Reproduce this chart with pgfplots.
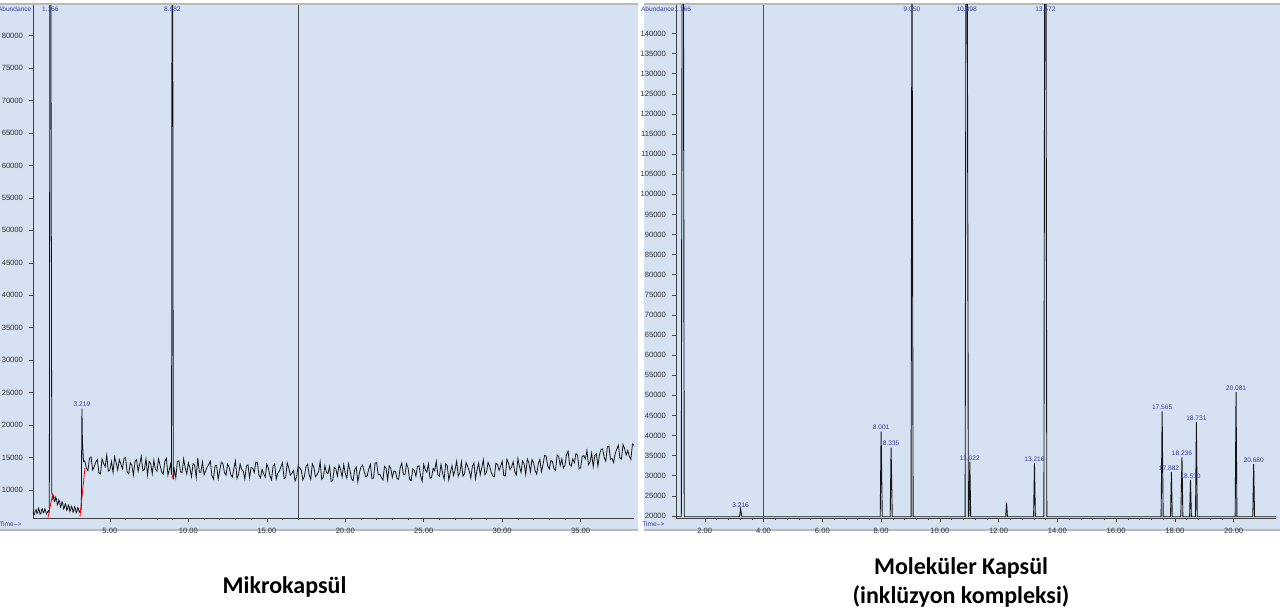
\documentclass[border=0pt]{standalone}
\usepackage{pgfplots}
\pgfplotsset{compat=1.18}
\usepackage{fontspec}
\setmainfont{Liberation Sans}
\newfontfamily\carlito{Carlito}
\definecolor{panel}{RGB}{212,226,241}
\definecolor{lblblue}{RGB}{60,60,175}
\definecolor{trace}{RGB}{20,20,20}
\tikzset{lbl/.style={font=\fontsize{3.3}{3.6}\selectfont, text=lblblue, inner sep=0.6pt}}
\pgfplotsset{
  chrom/.style={
    scale only axis, anchor=south west,
    axis x line*=bottom, axis y line*=left,
    axis line style={line width=0.45pt, black!75},
    tick style={black!75, line width=0.3pt},
    major tick length=2pt, minor tick length=1.1pt,
    tick align=outside,
    minor x tick num=4,
    ticklabel style={font=\fontsize{3.8}{4.2}\selectfont, text=black!80},
    xticklabel style={yshift=0.6pt},
    yticklabel style={xshift=0.5pt},
    scaled y ticks=false,
    yticklabel style={/pgf/number format/.cd, fixed, 1000 sep={}, precision=0},
    xticklabel style={/pgf/number format/.cd, fixed, fixed zerofill, precision=2},
    /pgf/number format/assume math mode=true,
    clip mode=individual,
  },
}
\begin{document}
\begin{tikzpicture}[x=1pt,y=1pt]
\fill[white] (0,0) rectangle (640,306);
\path[use as bounding box] (0,0) rectangle (640,306);
% panels
\fill[panel] (0,41) rectangle (319,304);
\fill[panel] (322,41) rectangle (640,304);
\draw[gray!55, line width=0.9pt] (0,304)--(319,304) (0,41)--(319,41);
\draw[gray!55, line width=0.9pt] (322,304)--(640,304) (322,41)--(640,41);

% ---------------- left: Mikrokapsul ----------------
\begin{axis}[chrom, at={(16.5pt,47pt)}, width=300.5pt, height=256.5pt,
  xmin=0.1, xmax=38.4, ymin=5700, ymax=84700,
  ytick={10000,15000,...,80000}, xtick={5,10,...,35}]
\addplot[trace, line width=0.4pt] coordinates {
(0.1,6700)(0.15,6200)(0.2,6300)(0.25,6900)(0.3,7000)(0.35,6400)(0.4,6500)(0.45,7200)(0.5,6900)(0.55,6300)
(0.6,6400)(0.65,7000)(0.7,7100)(0.75,6500)(0.8,6600)(0.85,7100)(0.9,6900)(0.95,6300)(1.0,6500)
(1.08,6800)(1.14,6600)(1.18,100000)(1.23,100000)(1.30,9600)(1.36,8700)(1.42,9100)(1.46,8200)(1.5,8300)(1.55,8900)(1.6,8600)
(1.65,7700)(1.7,7900)(1.75,8500)(1.8,8200)(1.85,7400)(1.9,7600)(1.95,8200)(2.0,7900)(2.05,7100)(2.1,7300)(2.15,7900)(2.2,7700)
(2.25,6900)(2.3,7100)(2.35,7700)(2.4,7500)(2.45,6700)(2.5,6900)(2.55,7500)(2.6,7300)(2.65,6600)
(2.7,6800)(2.75,7400)(2.8,7200)(2.85,6500)(2.9,6700)(2.95,7300)(3.0,7100)(3.05,6600)(3.1,6800)(3.18,7000)(3.20,16000)(3.22,22600)(3.25,17600)
(3.28,16200)(3.32,14400)
(3.4,14500)(3.5,13400)(3.6,13000)(3.7,14900)(3.8,15100)(3.9,13100)(4.0,13600)(4.1,14300)(4.2,14700)(4.3,12700)(4.4,12500)(4.5,14800)(4.6,14100)(4.7,13600)(4.8,15400)(4.9,12900)
(5.0,13100)(5.1,14400)(5.2,12700)(5.3,15100)(5.4,14200)(5.5,13100)(5.6,14700)(5.7,14000)(5.8,13300)(5.9,14900)
(6.0,15000)(6.1,12800)(6.2,12500)(6.3,14200)(6.4,13800)(6.5,12300)(6.6,14400)(6.7,14700)(6.8,12900)(6.9,14000)
(7.0,15200)(7.1,13000)(7.2,13200)(7.3,14800)(7.4,12300)(7.5,14400)(7.6,14100)(7.7,12500)(7.8,14600)(7.9,13200)
(8.0,12900)(8.1,14800)(8.2,13800)(8.3,12800)(8.4,12500)(8.5,14400)(8.6,14900)(8.7,12300)(8.8,13300)(8.87,14000)
(8.93,12400)(8.96,100000)(9.00,100000)(9.04,11600)(9.1,13200)
(9.2,11900)(9.3,14400)(9.4,14500)(9.5,12800)(9.6,12700)(9.7,14800)(9.8,13400)(9.9,12500)
(10.0,14200)(10.1,13400)(10.2,12050)(10.3,14050)(10.4,13850)(10.5,11950)(10.6,14950)(10.7,12750)(10.8,12750)(10.9,14350)
(11.0,12350)(11.1,12950)(11.2,13550)(11.3,13950)(11.4,14450)(11.5,12250)(11.6,11700)(11.7,13700)(11.8,13800)(11.9,11700)
(12.0,13000)(12.1,14300)(12.2,14100)(12.3,12700)(12.4,12300)(12.5,14000)(12.6,13500)(12.7,12400)(12.8,12000)(12.9,13300)
(13.0,14500)(13.1,11800)(13.2,12400)(13.3,14000)(13.4,13200)(13.5,12900)(13.6,11700)(13.7,13700)(13.8,13900)(13.9,11900)
(14.0,13500)(14.1,13400)(14.2,12700)(14.3,14300)(14.4,14200)(14.5,12300)(14.6,11900)(14.7,13200)(14.8,12500)(14.9,12000)
(15.0,14000)(15.1,13400)(15.2,12200)(15.3,11600)(15.4,13700)(15.5,14000)(15.6,11700)(15.7,12600)(15.8,12900)(15.9,13600)
(16.0,14200)(16.1,11800)(16.2,11900)(16.3,14200)(16.4,13400)(16.5,12300)(16.6,12600)(16.7,13000)(16.8,11400)(16.9,12000)
(17.0,13800)(17.1,13400)(17.2,13050)(17.3,11550)(17.4,12150)(17.5,13650)(17.6,13950)(17.7,12350)(17.8,11650)(17.9,14050)
(18.0,13450)(18.1,12050)(18.2,12350)(18.3,12850)(18.4,14350)(18.5,11650)(18.6,11950)(18.7,13750)(18.8,12750)(18.9,12550)
(19.0,13650)(19.1,11350)(19.2,11450)(19.3,13450)(19.4,13250)(19.5,12150)(19.6,13850)(19.7,13150)(19.8,12050)(19.9,13950)
(20.0,12550)(20.1,11850)(20.2,14050)(20.3,13050)(20.4,11750)(20.5,11450)(20.6,13150)(20.7,13550)(20.8,11250)(20.9,12650)
(21.0,13550)(21.1,13850)(21.2,12950)(21.3,12050)(21.4,12250)(21.5,13250)(21.6,13950)(21.7,11750)(21.8,11850)(21.9,14150)
(22.0,14250)(22.1,12350)(22.2,12450)(22.3,11950)(22.4,11550)(22.5,13650)(22.6,13350)(22.7,11550)(22.8,13750)(22.9,13350)
(23.0,11950)(23.1,12950)(23.2,12850)(23.3,11750)(23.4,11650)(23.5,13450)(23.6,14150)(23.7,12450)(23.8,12350)(23.9,14050)
(24.0,13450)(24.1,11650)(24.2,11450)(24.3,13250)(24.4,13050)(24.5,12150)(24.6,13650)(24.7,13750)(24.8,12150)(24.9,11350)
(25.0,13950)(25.1,13150)(25.2,12750)(25.3,14050)(25.4,11850)(25.5,11950)(25.6,13350)(25.7,12950)(25.8,14450)(25.9,12350)
(26.0,12150)(26.1,13950)(26.2,12650)(26.3,11650)(26.4,14050)(26.5,13750)(26.6,11550)(26.7,12750)(26.8,13750)(26.9,12250)
(27.0,13150)(27.1,14450)(27.2,12150)(27.3,12650)(27.4,14350)(27.5,12150)(27.6,12550)(27.7,14250)(27.8,13650)(27.9,12950)
(28.0,11850)(28.1,13650)(28.2,14150)(28.3,11750)(28.4,13150)(28.5,14150)(28.6,12350)(28.7,13450)(28.8,14650)(28.9,12350)
(29.0,12750)(29.1,14250)(29.2,13650)(29.3,12750)(29.4,12150)(29.5,12050)(29.6,14150)(29.7,13950)(29.8,13050)(29.9,13650)
(30.0,14450)(30.1,12250)(30.2,12150)(30.3,14750)(30.4,14150)(30.5,13150)(30.6,13550)(30.7,14350)(30.8,12850)(30.9,12350)
(31.0,14850)(31.1,13650)(31.2,12700)(31.3,14500)(31.4,14000)(31.5,12400)(31.6,14800)(31.7,14200)(31.8,12800)(31.9,14700)
(32.0,14200)(32.1,13000)(32.2,12450)(32.3,14050)(32.4,14750)(32.5,12850)(32.6,13850)(32.7,15350)(32.8,15250)(32.9,13750)
(33.0,13250)(33.1,14550)(33.2,14400)(33.3,13300)(33.4,13000)(33.5,15400)(33.6,15200)(33.7,13800)(33.8,14800)(33.9,13400)
(34.0,13800)(34.1,15500)(34.2,16000)(34.3,13900)(34.4,13700)(34.5,14800)(34.6,14200)(34.7,15600)(34.8,15400)(34.9,13300)
(35.0,13400)(35.1,15200)(35.2,15300)(35.3,14800)(35.4,16100)(35.5,13900)(35.6,14300)(35.7,15700)(35.8,13600)(35.9,15300)
(36.0,15600)(36.1,13700)(36.2,15450)(36.3,16250)(36.4,16350)(36.5,15050)(36.6,14450)(36.7,16650)(36.8,16750)(36.9,14750)
(37.0,14850)(37.1,14250)(37.2,15600)(37.3,16300)(37.4,16900)(37.5,15000)(37.6,14800)(37.7,17000)(37.8,16400)(37.9,15400)
(38.0,16100)(38.1,15200)(38.2,14700)(38.3,17100)(38.4,16900)
};
% integration baselines
\addplot[red, line width=0.4pt] coordinates {(1.05,5750)(1.37,9500)};
\addplot[red, line width=0.4pt] coordinates {(3.09,5850)(3.41,13400)};
\addplot[red, line width=0.4pt] coordinates {(8.95,11800)(9.07,12800)};
% cursor line
\addplot[black!70, line width=0.5pt] coordinates {(17.0,5700)(17.0,84700)};
\node[lbl, anchor=north] at (axis cs:1.2,84700) {1.166};
\node[lbl, anchor=north] at (axis cs:8.98,84700) {8.982};
\node[lbl, anchor=south] at (axis cs:3.22,22600) {3.219};
\node[lbl, anchor=north east] at (rel axis cs:0,1) {Abundance};
\node[lbl, anchor=north east, xshift=-5pt, yshift=-1.2pt] at (rel axis cs:0,0) {Time-->};
\end{axis}

% ---------------- right: Molekuler Kapsul ----------------
\begin{axis}[chrom, at={(338pt,47pt)}, width=300pt, height=256.5pt,
  xmin=1.02, xmax=21.44, ymin=19500, ymax=147100,
  ytick={20000,25000,...,140000}, xtick={2,4,...,20}]
\addplot[trace, line width=0.45pt] coordinates {
(1.02,19800)(1.20,19800)(1.23,170000)(1.27,170000)(1.30,19800)
(3.18,19800)(3.22,21800)(3.26,19800)
(7.97,19800)(8.00,41000)(8.04,19800)
(8.31,19800)(8.34,37000)(8.38,19800)
(9.02,19800)(9.05,170000)(9.09,19800)
(10.86,19800)(10.89,170000)(10.93,170000)(10.97,19800)
(10.99,19800)(11.02,33500)(11.05,19800)
(12.24,19800)(12.27,23300)(12.30,19800)
(13.19,19800)(13.22,33200)(13.25,19800)
(13.54,19800)(13.57,170000)(13.61,170000)(13.64,19800)
(17.53,19800)(17.565,46000)(17.60,19800)
(17.85,19800)(17.88,31000)(17.91,19800)
(18.20,19800)(18.24,34700)(18.27,19800)
(18.50,19800)(18.53,29000)(18.56,19800)
(18.70,19800)(18.73,43400)(18.76,19800)
(20.05,19800)(20.08,50800)(20.11,19800)
(20.65,19800)(20.68,32900)(20.71,19800)
(21.44,19800)
};
\addplot[black!70, line width=0.5pt] coordinates {(4.0,19500)(4.0,147100)};
\node[lbl, anchor=north] at (axis cs:1.25,147100) {1.166};
\node[lbl, anchor=north] at (axis cs:9.05,147100) {9.050};
\node[lbl, anchor=north] at (axis cs:10.91,147100) {10.898};
\node[lbl, anchor=north] at (axis cs:13.59,147100) {13.572};
\node[lbl, anchor=south] at (axis cs:3.22,21800) {3.216};
\node[lbl, anchor=south] at (axis cs:8.00,41000) {8.001};
\node[lbl, anchor=south] at (axis cs:8.34,37000) {8.335};
\node[lbl, anchor=south] at (axis cs:11.02,33500) {11.022};
\node[lbl, anchor=south] at (axis cs:13.22,33200) {13.216};
\node[lbl, anchor=south] at (axis cs:17.565,46000) {17.565};
\node[lbl, anchor=south] at (axis cs:17.80,31000) {17.882};
\node[lbl, anchor=south] at (axis cs:18.24,34700) {18.236};
\node[lbl, anchor=south] at (axis cs:18.53,29000) {18.530};
\node[lbl, anchor=south] at (axis cs:18.73,43400) {18.731};
\node[lbl, anchor=south] at (axis cs:20.08,50800) {20.081};
\node[lbl, anchor=south] at (axis cs:20.68,32900) {20.680};
\node[lbl, anchor=north east] at (rel axis cs:0,1) {Abundance};
\node[lbl, anchor=north east, xshift=-5pt, yshift=-1.2pt] at (rel axis cs:0,0) {Time-->};
\end{axis}

% captions
\node[font=\carlito\bfseries\fontsize{12}{14.5}\selectfont] at (142.25,12.5) {Mikrokapsül};
\node[font=\carlito\bfseries\fontsize{12}{14.5}\selectfont, align=center] at (480.5,14.75) {Moleküler Kapsül\\(inklüzyon kompleksi)};
\end{tikzpicture}
\end{document}
